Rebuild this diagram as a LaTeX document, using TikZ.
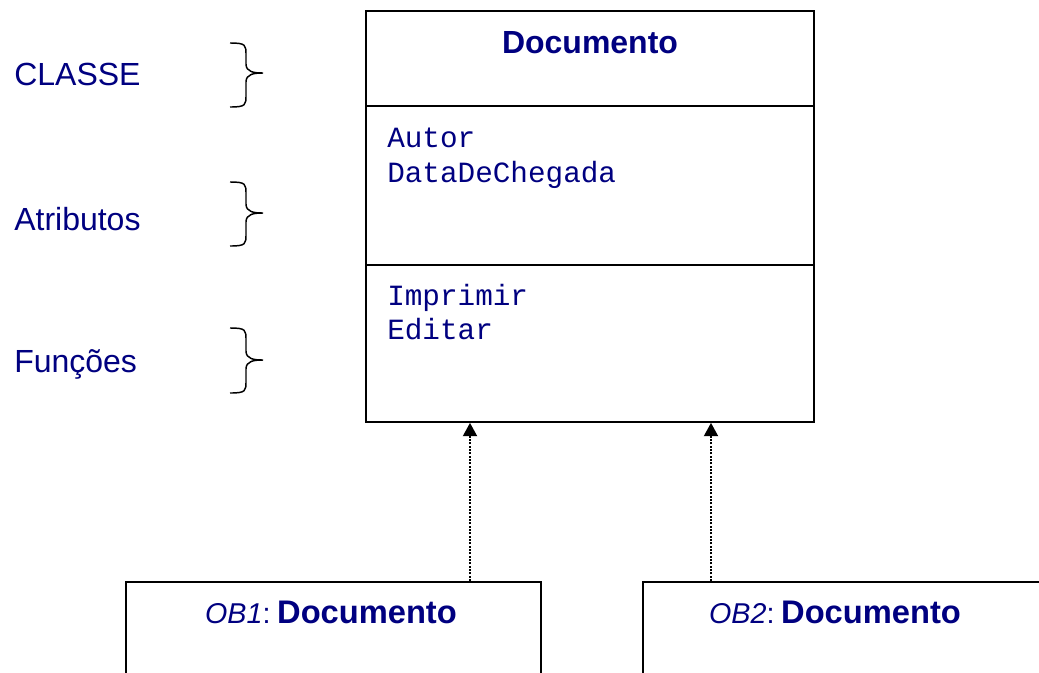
\documentclass[tikz,border=0pt]{standalone}
\usepackage{fontspec}
\setmainfont{Liberation Sans}
\setmonofont{Liberation Mono}
\usetikzlibrary{arrows.meta}
\definecolor{navy}{RGB}{0,0,128}
\begin{document}
\begin{tikzpicture}[x=0.75pt,y=-0.75pt,
  box/.style={draw=black,line width=1.3pt,rectangle,inner sep=0pt,minimum width=336pt},
  obox/.style={draw=black,line width=1.3pt,rectangle,inner sep=0pt,minimum width=311.25pt,minimum height=120pt},
  lbl/.style={anchor=base west,inner sep=0pt,text=navy,font=\fontsize{24}{28}\selectfont},
  mono/.style={anchor=base west,inner sep=0pt,text=navy,font=\ttfamily\fontsize{22}{26}\selectfont},
  ttl/.style={anchor=base,inner sep=0pt,text=navy,font=\bfseries\fontsize{24}{28}\selectfont},
  brace/.style={draw=black,line width=1.1pt},
  dep/.style={draw=black,line width=1.5pt,dash pattern=on 1.5pt off 1pt,-{Triangle[width=10.5pt,length=10pt]}}]
\clip (0,0) rectangle (1039,672);
\fill[white] (0,0) rectangle (1039,672);
% class box
\node[box,minimum height=71.25pt] (title) at (590,58.5) {};
\node[box,minimum height=119.25pt] (attr) at (590,185.5) {};
\node[box,minimum height=117.75pt] (ops) at (590,343.5) {};
\node[ttl] (tname) at (590,53) {Documento};
\node[mono] (a1) at (387,147) {Autor};
\node[mono] (a2) at (387,182) {DataDeChegada};
\node[mono] (f1) at (387,305) {Imprimir};
\node[mono] (f2) at (387,339) {Editar};
% left labels
\node[lbl] (lc) at (14,85) {CLASSE};
\node[lbl] (la) at (14,230) {Atributos};
\node[lbl] (lf) at (14,372) {Funções};
% braces
\foreach \t/\m/\b in {43/73/107,182/213/246,328/360/393}{
  \draw[brace] (230,\t) .. controls (246,\t) and (246,\t+2) .. (246,\t+12)
    -- (246,\m-9) .. controls (246,\m-1) and (254,\m) .. (263,\m)
    .. controls (254,\m) and (246,\m+1) .. (246,\m+9)
    -- (246,\b-12) .. controls (246,\b-2) and (246,\b) .. (230,\b);
}
% objects
\node[obox,anchor=north west] (ob1) at (125,581) {};
\node[obox,anchor=north west] (ob2) at (642,581) {};
\node[anchor=base,inner sep=0pt,text=navy] (ob1t) at (331,623)
  {{\fontsize{21.5}{24}\selectfont\itshape OB1}{\fontsize{21.5}{24}\selectfont:\hspace{5pt}}{\bfseries\fontsize{24.5}{28}\selectfont Documento}};
\node[anchor=base,inner sep=0pt,text=navy] (ob2t) at (835,623)
  {{\fontsize{21.5}{24}\selectfont\itshape OB2}{\fontsize{21.5}{24}\selectfont:\hspace{5pt}}{\bfseries\fontsize{24.5}{28}\selectfont Documento}};
% dependencies
\coordinate (x1) at (470,0);
\coordinate (x2) at (711,0);
\draw[dep] (ob1.north -| x1) -- (ops.south -| x1);
\draw[dep] (ob2.north -| x2) -- (ops.south -| x2);
\end{tikzpicture}
\end{document}
